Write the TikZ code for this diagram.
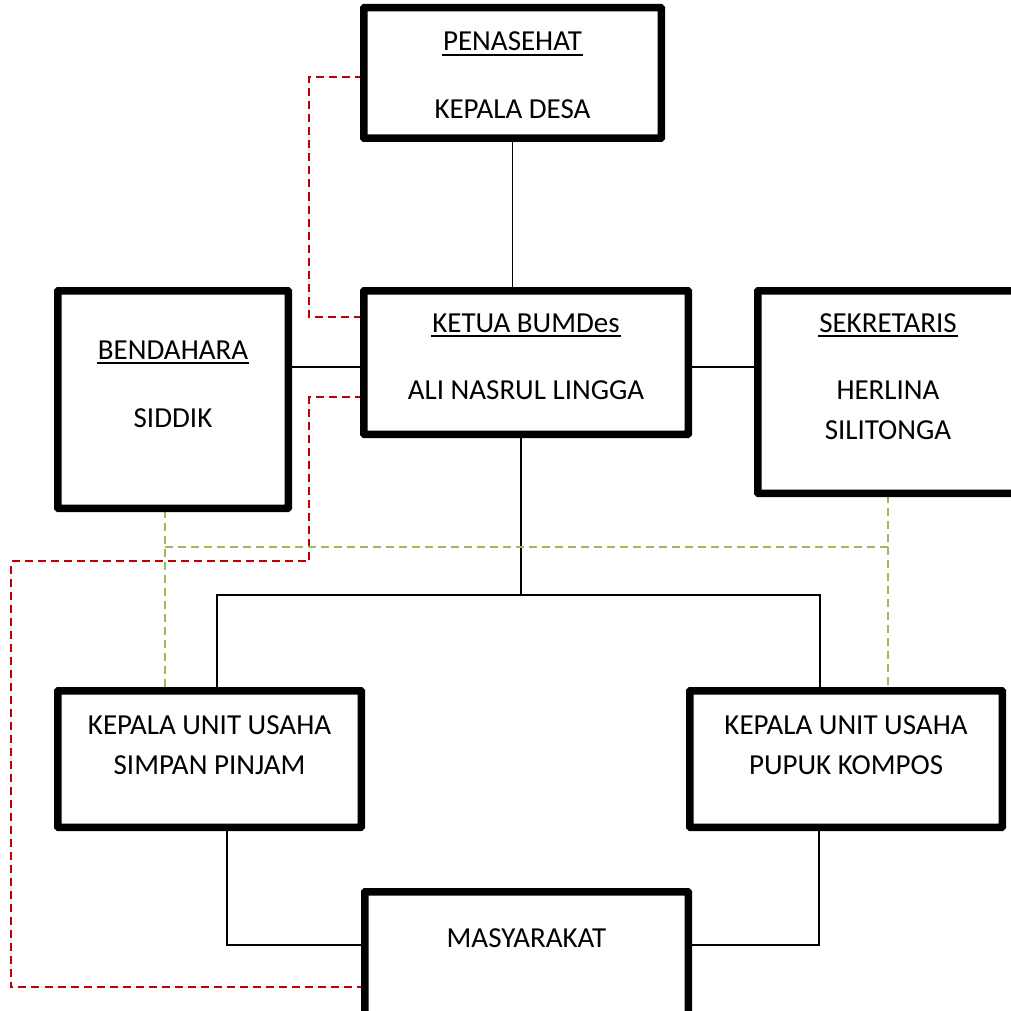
\documentclass[tikz,border=0pt]{standalone}
\usepackage{fontspec}
\setmainfont{Carlito}
\definecolor{dred}{HTML}{C00000}
\definecolor{dgreen}{HTML}{9BBB59}
\begin{document}
\begin{tikzpicture}[x=1pt,y=-1pt,
  box/.style={draw, line width=5pt, rounded corners=1.5pt, inner sep=0pt},
  txt/.style={inner sep=0pt, font=\fontsize{29}{35}\selectfont, anchor=base},
  conn/.style={line width=1.5pt},
  ul/.style={line width=2.6pt},
  reddash/.style={draw=dred, line width=1.6pt, dash pattern=on 8pt off 5pt},
  greendash/.style={draw=dgreen, line width=1.6pt, dash pattern=on 8pt off 5pt}]
\clip (0,0) rectangle (1011,1011);
\fill[white] (0,0) rectangle (1011,1011);

% boxes
\node[box, minimum width=295pt, minimum height=128pt] (pen) at (512.5,73) {};
\node[box, minimum width=322pt, minimum height=141pt] (ketua) at (526,362.5) {};
\node[box, minimum width=228pt, minimum height=215pt] (bend) at (173,399.5) {};
\node[box, minimum width=258pt, minimum height=200pt] (sek) at (888,392) {};
\node[box, minimum width=301pt, minimum height=134pt] (unitA) at (209.5,759) {};
\node[box, minimum width=310pt, minimum height=134pt] (unitB) at (846,759) {};
\node[box, minimum width=321pt, minimum height=147pt] (mas) at (526.5,966.5) {};

% texts
\node[txt] (penT) at (512.5,51) {PENASEHAT};
\node[txt] (penN) at (512.5,119) {KEPALA DESA};
\node[txt] (ketT) at (526,332) {KETUA BUMDes};
\node[txt] (ketN) at (526,399) {ALI NASRUL LINGGA};
\node[txt] (benT) at (173,359) {BENDAHARA};
\node[txt] (benN) at (173,427) {SIDDIK};
\node[txt] (sekT) at (888,332) {SEKRETARIS};
\node[txt] (sekN1) at (888,399) {HERLINA};
\node[txt] (sekN2) at (888,439) {SILITONGA};
\node[txt] (uA1) at (209.5,734) {KEPALA UNIT USAHA};
\node[txt] (uA2) at (209.5,774) {SIMPAN PINJAM};
\node[txt] (uB1) at (846,734) {KEPALA UNIT USAHA};
\node[txt] (uB2) at (846,774) {PUPUK KOMPOS};
\node[txt] (masT) at (526.5,947) {MASYARAKAT};

% underlines
\foreach \n in {penT,ketT,benT,sekT}
  \draw[ul] ([xshift=-1pt,yshift=-4pt]\n.base west) -- ([xshift=1pt,yshift=-4pt]\n.base east);

% coordinates
\coordinate (lv1) at (0,367);
\coordinate (kx) at (521,0);
\coordinate (busL) at (217,595);
\coordinate (busR) at (820,595);
\coordinate (ma) at (227,945);
\coordinate (mb) at (819,945);
\coordinate (r1) at (309,77);
\coordinate (r2) at (309,317);
\coordinate (r3) at (309,397);
\coordinate (r4) at (309,561);
\coordinate (r5) at (11,561);
\coordinate (r6) at (11,987);
\coordinate (g1) at (165,547);
\coordinate (g2) at (888,547);

% black connectors
\draw[conn] (pen.south) -- (pen.south |- ketua.north);
\draw[conn] (bend.east |- lv1) -- (ketua.west |- lv1);
\draw[conn] (ketua.east |- lv1) -- (sek.west |- lv1);
\draw[conn] (kx |- ketua.south) -- (kx |- busL);
\draw[conn] (busL |- unitA.north) -- (busL) -- (busR) -- (busR |- unitB.north);
\draw[conn] (ma |- unitA.south) -- (ma) -- (ma -| mas.west);
\draw[conn] (mb |- unitB.south) -- (mb) -- (mb -| mas.east);

% red dashed
\draw[reddash] (pen.west |- r1) -- (r1) -- (r2) -- (ketua.west |- r2);
\draw[reddash] (ketua.west |- r3) -- (r3) -- (r4) -- (r5) -- (r6) -- (mas.west |- r6);

% green dashed
\draw[greendash] (g1 |- bend.south) -- (g1 |- unitA.north);
\draw[greendash] (g2 |- sek.south) -- (g2 |- unitB.north);
\draw[greendash] (g1) -- (g2);

% redraw box borders on top
\foreach \b in {pen,ketua,bend,sek,unitA,unitB,mas}
  \draw[line width=5pt, rounded corners=1.5pt] (\b.north west) rectangle (\b.south east);
\end{tikzpicture}
\end{document}
